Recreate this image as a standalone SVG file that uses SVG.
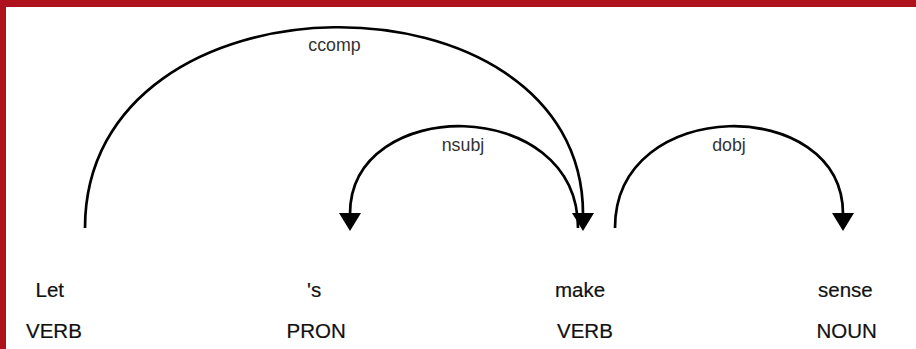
<svg xmlns="http://www.w3.org/2000/svg" width="916" height="349" viewBox="0 0 916 349">
  <style>
    .word { font-family: "Liberation Sans", Arial, sans-serif; font-size: 20.5px; fill: #111; stroke: #111; stroke-width: 0.2; }
    .lbl { font-family: "Liberation Sans", Arial, sans-serif; font-size: 17.8px; fill: #333; text-anchor: middle; }
    .arc { fill: none; stroke: #000; stroke-width: 2.7; }
    .head { fill: #000; }
  </style>
  <rect x="0" y="0" width="916" height="349" fill="#fff"/>
  <rect x="0" y="0" width="916" height="7" fill="#ae121c"/>
  <rect x="0" y="0" width="6" height="349" fill="#ae121c"/>

  <g id="connectors">
    <g id="arc-ccomp">
      <path class="arc" d="M85,228 C85,-37.3 583,-37.3 583,214"/>
      <polygon class="head" points="572,213 594,213 583,231"/>
      <text class="lbl" x="334.5" y="51">ccomp</text>
    </g>
    <g id="arc-nsubj">
      <path class="arc" d="M578,228 C578,94.7 350,94.7 350,214"/>
      <polygon class="head" points="339,213 361,213 350,231"/>
      <text class="lbl" x="463" y="151">nsubj</text>
    </g>
    <g id="arc-dobj">
      <path class="arc" d="M615,228 C615,94.7 843,94.7 843,214"/>
      <polygon class="head" points="832,213 854,213 843,231"/>
      <text class="lbl" x="729" y="151">dobj</text>
    </g>
  </g>

  <g id="node-let">
    <text class="word" x="35.5" y="297">Let</text>
    <text class="word" x="26" y="338">VERB</text>
  </g>
  <g id="node-s">
    <text class="word" x="307" y="297">'s</text>
    <text class="word" x="286.5" y="338">PRON</text>
  </g>
  <g id="node-make">
    <text class="word" x="555" y="297">make</text>
    <text class="word" x="557" y="338">VERB</text>
  </g>
  <g id="node-sense">
    <text class="word" x="818" y="297">sense</text>
    <text class="word" x="816.5" y="338">NOUN</text>
  </g>
</svg>
